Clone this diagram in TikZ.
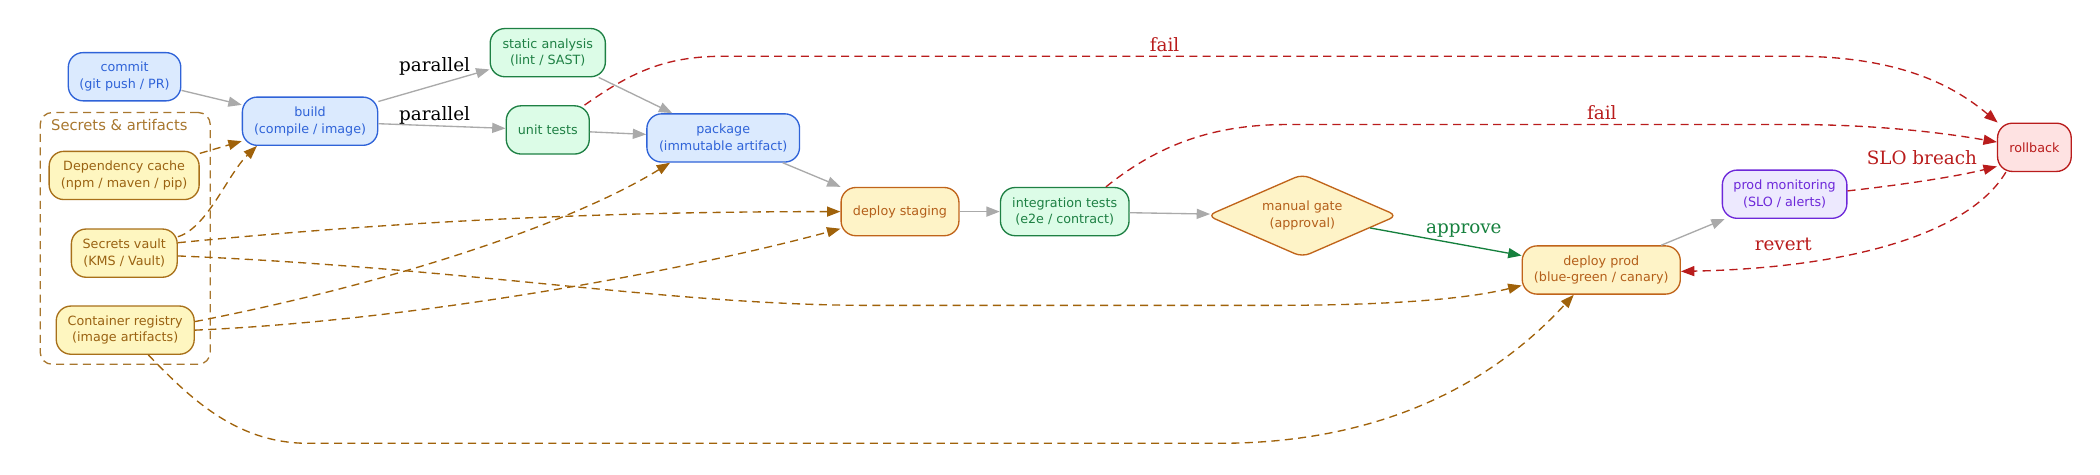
\documentclass[tikz,border=0pt]{standalone}
\usepackage{fontspec}
\setmainfont{DejaVu Sans}
\newfontfamily\labelfont{DejaVu Serif}
\usetikzlibrary{arrows.meta,shapes.geometric}
\definecolor{blueline}{HTML}{2F63D8}
\definecolor{bluefill}{HTML}{DBEAFE}
\definecolor{greenline}{HTML}{1E8044}
\definecolor{greenfill}{HTML}{DCFCE7}
\definecolor{orangeline}{HTML}{C0641A}
\definecolor{orangetext}{HTML}{B45F1A}
\definecolor{orangefill}{HTML}{FEF3C7}
\definecolor{yelline}{HTML}{A8701A}
\definecolor{yeltext}{HTML}{9A6212}
\definecolor{yelfill}{HTML}{FEF6C0}
\definecolor{purpline}{HTML}{6D28D9}
\definecolor{purpfill}{HTML}{EDE9FE}
\definecolor{redline}{HTML}{B91C1C}
\definecolor{redfill}{HTML}{FEE2E2}
\definecolor{edgegray}{HTML}{AAAAAA}
\definecolor{brownedge}{HTML}{A0620A}
\definecolor{clusterc}{HTML}{A8772F}
\definecolor{approvec}{HTML}{15803D}
\begin{document}
\begin{tikzpicture}[x=1pt,y=-1pt,
  box/.style={rounded corners=11pt, line width=1pt, inner sep=0pt, align=center,
    font=\fontsize{9.5}{12.4}\selectfont, minimum height=36pt},
  bluebox/.style={box, draw=blueline, fill=bluefill, text=blueline},
  greenbox/.style={box, draw=greenline, fill=greenfill, text=greenline},
  orangebox/.style={box, draw=orangeline, fill=orangefill, text=orangetext},
  yelbox/.style={box, draw=yelline, fill=yelfill, text=yeltext},
  purpbox/.style={box, draw=purpline, fill=purpfill, text=purpline},
  redbox/.style={box, draw=redline, fill=redfill, text=redline},
  edgebase/.style={line width=1pt, -{Triangle[length=10pt,width=7.5pt]}},
  grayedge/.style={edgebase, color=edgegray},
  greenedge/.style={edgebase, color=approvec},
  rededge/.style={edgebase, color=redline, dash pattern=on 6pt off 4pt},
  brownedgest/.style={edgebase, color=brownedge, dash pattern=on 6pt off 4pt},
  elabel/.style={font=\labelfont\fontsize{13.7}{16}\selectfont, anchor=base, inner sep=0pt}
]
\useasboundingbox (0,0) rectangle (1568,354);

% cluster
\node (cluster) [draw=clusterc, line width=1pt, dash pattern=on 6pt off 4pt, rounded corners=9pt,
  minimum width=127pt, minimum height=188pt, inner sep=0pt] at (93.5,178) {};
\node (clabel) [anchor=base west, inner sep=0pt, text=clusterc, font=\fontsize{11}{13}\selectfont] at (38,97.6) {Secrets \& artifacts};

% nodes
\node (commit) [bluebox, minimum width=84pt] at (93,57.3) {commit\\(git push / PR)};
\node (build) [bluebox, minimum width=101pt] at (231.5,90.5) {build\\(compile / image)};
\node (static) [greenbox, minimum width=86pt] at (409,39.3) {static analysis\\(lint / SAST)};
\node (unit) [greenbox, minimum width=62pt] at (409,97) {unit tests};
\node (package) [bluebox, minimum width=114pt] at (540,103) {package\\(immutable artifact)};
\node (staging) [orangebox, minimum width=88pt] at (672,158) {deploy staging};
\node (integ) [greenbox, minimum width=96pt] at (795,158) {integration tests\\(e2e / contract)};
\node (gate) [diamond, draw=orangeline, fill=orangefill, text=orangetext, line width=1pt,
  rounded corners=6pt, inner sep=0pt, minimum width=142pt, minimum height=62pt, aspect=2.29,
  align=center, font=\fontsize{9.5}{12.4}\selectfont] at (972.4,161) {manual gate\\(approval)};
\node (prod) [orangebox, minimum width=118pt] at (1195.6,201.6) {deploy prod\\(blue-green / canary)};
\node (monitor) [purpbox, minimum width=93pt] at (1332.5,145) {prod monitoring\\(SLO / alerts)};
\node (rollback) [redbox, minimum width=55pt] at (1519,110) {rollback};
\node (dep) [yelbox, minimum width=112pt] at (92.7,131) {Dependency cache\\(npm / maven / pip)};
\node (vault) [yelbox, minimum width=79pt] at (92.8,189) {Secrets vault\\(KMS / Vault)};
\node (registry) [yelbox, minimum width=103pt] at (93.5,246.5) {Container registry\\(image artifacts)};

% gray pipeline edges
\draw[grayedge] (commit) -- (build);
\draw[grayedge] (build) -- (static);
\draw[grayedge] (build) -- (unit);
\draw[grayedge] (static) -- (package);
\draw[grayedge] (unit) -- (package);
\draw[grayedge] (package) -- (staging);
\draw[grayedge] (staging) -- (integ);
\draw[grayedge] (integ) -- (gate);
\draw[greenedge] (gate) -- (prod);
\draw[grayedge] (prod) -- (monitor);

\node[elabel] (lp1) at (324.5,53.5) {parallel};
\node[elabel] (lp2) at (324.5,89.6) {parallel};
\node[elabel, text=approvec] (lapprove) at (1093,174) {approve};

% red failure edges
\draw[rededge] (unit.34) .. controls (470,55) and (495,42) .. (540,42) -- (1340,42)
  .. controls (1420,42) and (1460,65) .. (rollback.146);
\node[elabel, text=redline] (lfail1) at (869.5,38.6) {fail};
\draw[rededge] (integ.31) .. controls (860,112) and (900,93) .. (960,93) -- (1340,93)
  .. controls (1400,93) and (1450,99) .. (rollback.172);
\node[elabel, text=redline] (lfail2) at (1196,89) {fail};
\draw[rededge] (monitor.3) .. controls (1420,138) and (1460,132) .. (rollback.207);
\node[elabel, text=redline] (lslo) at (1435,123) {SLO breach};
\draw[rededge] (rollback.221) .. controls (1470,175) and (1380,200) .. (prod.-1);
\node[elabel, text=redline] (lrevert) at (1331.5,186.7) {revert};

% brown dependency edges
\draw[brownedgest] (dep) -- (build);
\draw[brownedgest] (vault.17) .. controls (155,170) and (170,130) .. (build.205.6);
\draw[brownedgest] (vault.11.4) .. controls (300,165) and (450,158) .. (staging.west);
\draw[brownedgest] (vault.-3) .. controls (350,200) and (500,228) .. (650,228) -- (950,228)
  .. controls (1050,228) and (1100,222) .. (prod.191);
\draw[brownedgest] (registry.7.7) .. controls (300,210) and (430,165) .. (package.205.3);
\draw[brownedgest] (registry.east) .. controls (300,240) and (500,205) .. (staging.196);
\draw[brownedgest] (registry.-47.5) .. controls (140,295) and (175,331) .. (230,331) -- (910,331)
  .. controls (1040,331) and (1120,280) .. (prod.222.6);
\end{tikzpicture}
\end{document}
